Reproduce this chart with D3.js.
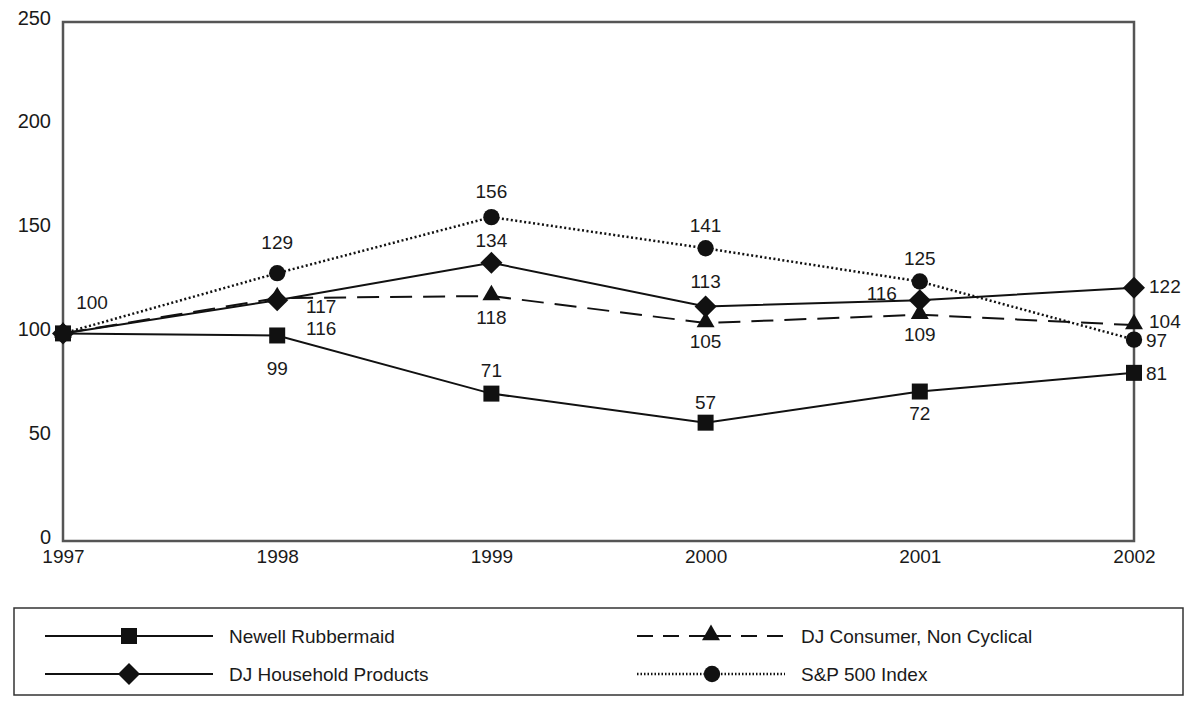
<!DOCTYPE html>
<html>
<head>
    <script src="https://cdn.jsdelivr.net/npm/d3@7/dist/d3.min.js"></script>
    <style>
        body {
            margin: 0;
            background-color: white;
        }
        text {
            font-family: "Liberation Sans", Arial, sans-serif;
            fill: #1a1a1a;
        }
    </style>
</head>
<body>
    <svg id="chart" width="1192" height="709"></svg>
    <script>
        // data
        const years = ['1997', '1998', '1999', '2000', '2001', '2002']
        const yTicks = [0, 50, 100, 150, 200, 250]
        const newell = [100, 99, 71, 57, 72, 81]
        const household = [100, 116, 134, 113, 116, 122]
        const consumer = [100, 117, 118, 105, 109, 104]
        const sp500 = [100, 129, 156, 141, 125, 97]

        // label offsets per series (dx, dy in px), null = no label
        const newellLabels = [null, [0, 33], [0, -23], [0, -20], [0, 22], [12, 1]]
        const householdLabels = [null, [44, 28], [0, -22], [0, -25], [-38, -7], [15, -1]]
        const consumerLabels = [null, [44, 8], [0, 21], [0, 18], [0, 20], [15, -4]]
        const spLabels = [[29, -31], [0, -31], [0, -26], [0, -23], [0, -23], [12, 1]]

        const series = [
            { name: 'Newell Rubbermaid', values: newell, labels: newellLabels, marker: 'square', dash: null },
            { name: 'DJ Household Products', values: household, labels: householdLabels, marker: 'diamond', dash: null },
            { name: 'DJ Consumer, Non Cyclical', values: consumer, labels: consumerLabels, marker: 'triangle', dash: '22,11' },
            { name: 'S&P 500 Index', values: sp500, labels: spLabels, marker: 'circle', dash: '2,2.5' }
        ]

        const mLeft = 63, mRight = 1134, mTop = 22, mBottom = 541
        const svg = d3.select('#chart')

        const x = d3.scalePoint().domain(years).range([mLeft, mRight])
        const y = d3.scaleLinear().domain([0, 250]).range([mBottom, mTop])

        function markerPath(type) {
            const sym = {
                square: d3.symbolSquare,
                diamond: d3.symbolSquare,
                triangle: d3.symbolTriangle,
                circle: d3.symbolCircle
            }[type]
            const size = { square: 256, diamond: 243, triangle: 140, circle: 210 }[type]
            return d3.symbol().type(sym).size(size)()
        }
        function markerAt(type, px, py) {
            return `translate(${px}, ${py})` + (type === 'diamond' ? ' rotate(45)' : '') +
                (type === 'triangle' ? ' translate(0, -1)' : '')
        }

        // frame
        svg.append('rect')
            .attr('x', mLeft).attr('y', mTop)
            .attr('width', mRight - mLeft).attr('height', mBottom - mTop)
            .attr('fill', 'none')
            .attr('stroke', '#555')
            .attr('stroke-width', 2.5)

        // y axis labels
        const yAxis = svg.append('g')
            .attr('transform', `translate(${mLeft}, 0)`)
            .call(d3.axisLeft(y).tickValues(yTicks).tickSize(0).tickPadding(12))
        yAxis.select('.domain').remove()
        yAxis.selectAll('text')
            .attr('font-size', 20)
            .attr('dy', '0.1em')
            .style('font-family', '"Liberation Sans", Arial, sans-serif')
            .attr('fill', '#1a1a1a')

        // x axis labels
        const xAxis = svg.append('g')
            .attr('transform', `translate(0, ${mBottom})`)
            .call(d3.axisBottom(x).tickSize(0).tickPadding(9))
        xAxis.select('.domain').remove()
        xAxis.selectAll('text')
            .attr('font-size', 19)
            .style('font-family', '"Liberation Sans", Arial, sans-serif')
            .attr('fill', '#1a1a1a')

        const line = d3.line()
            .x((d, i) => x(years[i]))
            .y(d => y(d))

        // lines
        series.forEach(s => {
            svg.append('path')
                .datum(s.values)
                .attr('d', line)
                .attr('fill', 'none')
                .attr('stroke', '#111')
                .attr('stroke-width', s.marker === 'circle' ? 2.5 : 2)
                .attr('stroke-dasharray', s.dash)
        })

        // markers (Newell drawn last so it sits on top at 1997)
        series.slice().reverse().forEach(s => {
            svg.append('g').selectAll('path')
                .data(s.values)
                .enter()
                .append('path')
                .attr('d', markerPath(s.marker))
                .attr('transform', (d, i) => markerAt(s.marker, x(years[i]), y(d)))
                .attr('fill', '#111')
        })

        // value labels
        series.forEach(s => {
            svg.append('g').selectAll('text')
                .data(s.values.map((v, i) => ({ v, i, off: s.labels[i] })).filter(d => d.off))
                .enter()
                .append('text')
                .attr('x', d => x(years[d.i]) + d.off[0])
                .attr('y', d => y(d.v) + d.off[1])
                .attr('dy', '0.35em')
                .attr('text-anchor', d => d.i === years.length - 1 ? 'start' : 'middle')
                .attr('font-size', 19)
                .text(d => d.v)
        })

        // legend
        svg.append('rect')
            .attr('x', 14).attr('y', 608)
            .attr('width', 1169).attr('height', 87)
            .attr('fill', 'none')
            .attr('stroke', '#333')
            .attr('stroke-width', 1.5)

        const legendPos = [
            { x1: 45, x2: 213, mx: 129, y: 636 },
            { x1: 45, x2: 213, mx: 129, y: 674 },
            { x1: 637, x2: 785, mx: 711, y: 636 },
            { x1: 637, x2: 785, mx: 712, y: 674 }
        ]
        series.forEach((s, i) => {
            const p = legendPos[i]
            const g = svg.append('g')
            g.append('line')
                .attr('x1', p.x1).attr('x2', p.x2)
                .attr('y1', p.y).attr('y2', p.y)
                .attr('stroke', '#111')
                .attr('stroke-width', s.marker === 'circle' ? 2.5 : 2)
                .attr('stroke-dasharray', s.dash === null ? null : (s.marker === 'circle' ? '1.5,2' : '16,10'))
            g.append('path')
                .attr('d', markerPath(s.marker))
                .attr('transform', markerAt(s.marker, p.mx, p.y))
                .attr('fill', '#111')
            g.append('text')
                .attr('x', p.x2 + 16)
                .attr('y', p.y)
                .attr('dy', '0.35em')
                .attr('font-size', 19)
                .text(s.name)
        })
    </script>
</body>
</html>
